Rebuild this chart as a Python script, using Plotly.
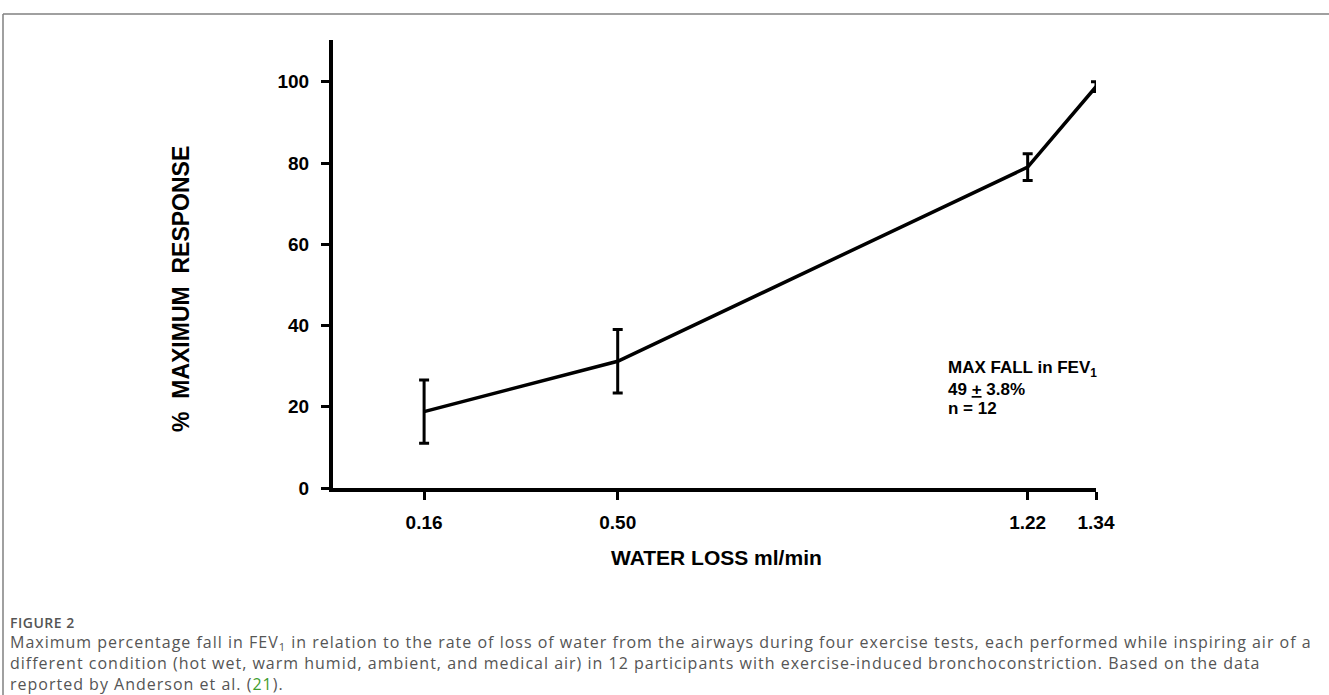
import plotly.graph_objects as go

# ---- data ----
water_loss = [0.16, 0.50, 1.22, 1.34]
pct_max_response = [18.8, 31.2, 79.0, 98.8]
sem = [7.8, 7.8, 3.3, 1.2]
x_tick_labels = ["0.16", "0.50", "1.22", "1.34"]
y_tick_values = [0, 20, 40, 60, 80, 100]

# ---- layout geometry (pixels) ----
W, H = 1329, 695
ML, MR, MT, MB = 333, 233, 40, 207
PW, PH = W - ML - MR, H - MT - MB


def px(x):
    return (x - ML) / PW


def py(y):
    return (H - MB - y) / PH


FONT = "Liberation Sans, Arial, sans-serif"
CAP_FONT = "Open Sans, Noto Sans, sans-serif"

fig = go.Figure()
fig.add_trace(
    go.Scatter(
        x=water_loss,
        y=pct_max_response,
        mode="lines",
        line=dict(color="black", width=3.5),
        error_y=dict(type="data", array=sem, visible=True, color="black",
                     thickness=3, width=5),
        showlegend=False,
        hoverinfo="x+y",
    )
)

fig.update_xaxes(
    range=[0, 1.34],
    tickmode="array",
    tickvals=water_loss,
    ticktext=x_tick_labels,
    ticks="outside",
    ticklen=8,
    tickwidth=3,
    tickcolor="black",
    showline=True,
    linecolor="black",
    linewidth=4,
    showgrid=False,
    zeroline=False,
    tickfont=dict(family=FONT, size=19, color="black", weight="bold"),
    ticklabelstandoff=6,
)
fig.update_yaxes(
    range=[0, 110.3],
    tickmode="array",
    tickvals=y_tick_values,
    ticks="outside",
    ticklen=8,
    tickwidth=3,
    tickcolor="black",
    showline=True,
    linecolor="black",
    linewidth=4,
    showgrid=False,
    zeroline=False,
    tickfont=dict(family=FONT, size=19, color="black", weight="bold"),
    ticklabelstandoff=8,
)

caption = (
    "<span style='letter-spacing:1px'>"
    "Maximum percentage fall in FEV<sub>1</sub> in relation to the rate of loss of water from the airways during four exercise tests, each performed while inspiring air of a"
    "<br>different condition (hot wet, warm humid, ambient, and medical air) in 12 participants with exercise-induced bronchoconstriction. Based on the data"
    "<br>reported by Anderson et al. (<span style='color:#3f9d2f'>21</span>)."
    "</span>"
)

annotations = [
    dict(text="<b>%  MAXIMUM  RESPONSE</b>", x=px(181), y=py(289), textangle=-90,
         font=dict(family=FONT, size=23, color="black")),
    dict(text="<b>WATER LOSS ml/min</b>", x=px(716), y=py(557),
         font=dict(family=FONT, size=21, color="black")),
    dict(text="<b>MAX FALL in FEV<sub>1</sub></b>", x=px(946), y=py(369), xanchor="left",
         font=dict(family=FONT, size=17, color="black")),
    dict(text="<b>49 <u>+</u> 3.8%</b>", x=px(946), y=py(389), xanchor="left",
         font=dict(family=FONT, size=17, color="black")),
    dict(text="<b>n = 12</b>", x=px(946), y=py(408), xanchor="left",
         font=dict(family=FONT, size=17, color="black")),
    dict(text="<span style='letter-spacing:0.5px'>FIGURE 2</span>", x=px(8), y=py(622), xanchor="left",
         font=dict(family=CAP_FONT, size=14, color="#555555", weight=600)),
    dict(text=caption, x=px(8), y=py(663), xanchor="left", align="left",
         font=dict(family=CAP_FONT, size=16, color="#555555")),
]
for a in annotations:
    a.update(xref="paper", yref="paper", showarrow=False, yanchor="middle")
    a.setdefault("xanchor", "center")
fig.update_layout(annotations=annotations)

# frame lines around the figure panel
fig.add_shape(type="line", xref="paper", yref="paper", x0=px(3), x1=px(W), y0=py(14), y1=py(14),
              line=dict(color="#808080", width=1.5))
fig.add_shape(type="line", xref="paper", yref="paper", x0=px(3), x1=px(3), y0=py(14), y1=py(H),
              line=dict(color="#808080", width=1.5))

fig.update_layout(
    width=W,
    height=H,
    margin=dict(l=ML, r=MR, t=MT, b=MB, pad=0),
    paper_bgcolor="white",
    plot_bgcolor="white",
    font=dict(family=FONT),
)

fig.write_html("out.html")
